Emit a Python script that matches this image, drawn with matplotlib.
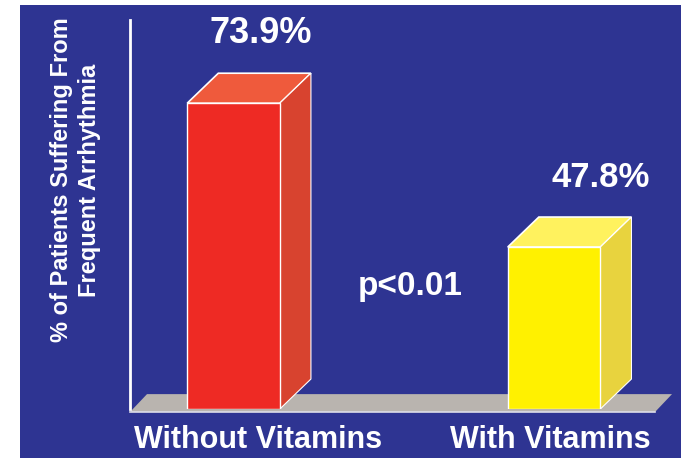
import matplotlib
matplotlib.use("Agg")
import matplotlib.pyplot as plt
from matplotlib.patches import Polygon, Rectangle
import numpy as np

# ---- data ----
categories = ["Without Vitamins", "With Vitamins"]
values = [73.9, 47.8]
value_labels = ["73.9%", "47.8%"]
p_text = "p<0.01"
y_label = "% of Patients Suffering From\nFrequent Arrhythmia"

# ---- style ----
BG = "#2E3492"
front_colors = ["#EE2A24", "#FFF100"]
top_colors = ["#EF5A3C", "#FFF25E"]
side_colors = ["#D8432F", "#E8D33E"]
FLOOR = "#B9B4AF"
FONT = "Liberation Sans"

base = 18.4          # visual baseline of the (non-zero) value axis
y_top = 89.0
width = 0.289
dx, dy = 0.097, 5.44  # 3-D depth offsets
label_dx = [0.086, 0.144]
cat_dx = [0.076, -0.012]

fig = plt.figure(figsize=(6.81, 4.68), dpi=100)
fig.patch.set_facecolor("white")
fig.add_artist(Rectangle((20 / 681, 10 / 468), 1 - 20 / 681, 453 / 468,
                         transform=fig.transFigure, facecolor=BG,
                         edgecolor="none", zorder=0))

ax = fig.add_axes([130 / 681, 59 / 468, 542 / 681, 389 / 468])
ax.set_facecolor("none")
ax.set_xlim(-0.323, 1.368)
ax.set_ylim(base, y_top)

x = np.arange(len(values))
xl, xr = ax.get_xlim()

# floor slab
fh = 2.7
fd = 17 / 320.5
ax.add_patch(Polygon([(xl, base - 0.55), (xl + fd, base + fh), (xr, base + fh),
                      (xr - fd, base - 0.55)], closed=True, facecolor=FLOOR,
                     edgecolor="none", zorder=1, clip_on=False))
ax.plot([xl, xr - fd], [base - 0.55, base - 0.55], color="#DDDDE8", lw=1.2,
        zorder=2, clip_on=False)

# bars (3-D look)
ax.bar(x, np.array(values) - base, bottom=base, width=width,
       color=front_colors, edgecolor="white", linewidth=1.0, zorder=4)
for i, v in enumerate(values):
    l, r = x[i] - width / 2, x[i] + width / 2
    ax.add_patch(Polygon([(l, v), (r, v), (r + dx, v + dy), (l + dx, v + dy)],
                         closed=True, facecolor=top_colors[i],
                         edgecolor="white", linewidth=1.2, zorder=3))
    ax.add_patch(Polygon([(r, base), (r + dx, base + dy), (r + dx, v + dy), (r, v)],
                         closed=True, facecolor=side_colors[i],
                         edgecolor="white", linewidth=0.8, zorder=3))
    ax.text(x[i] + label_dx[i], v + dy + 5.46, value_labels[i], ha="center",
            va="baseline", color="white", fontsize=26 if i == 0 else 25,
            fontweight="bold", family=FONT, zorder=5)
    ax.text(x[i] + cat_dx[i], base - 7.1, categories[i], ha="center",
            va="baseline", color="white", fontsize=22, fontweight="bold",
            family=FONT, clip_on=False)

ax.text(0.551, 39.1, p_text, ha="center", va="baseline", color="white",
        fontsize=24, fontweight="bold", family=FONT)

ax.text(-0.101, 0.589, y_label, transform=ax.transAxes, rotation=90,
        ha="center", va="center", multialignment="center", color="white",
        fontsize=17, fontweight="bold", family=FONT, linespacing=1.3)

for s in ["top", "right", "bottom"]:
    ax.spines[s].set_visible(False)
ax.spines["left"].set_color("white")
ax.spines["left"].set_linewidth(2)
ax.set_xticks([])
ax.set_yticks([])

fig.savefig("out.png", dpi=100, facecolor=fig.get_facecolor())
